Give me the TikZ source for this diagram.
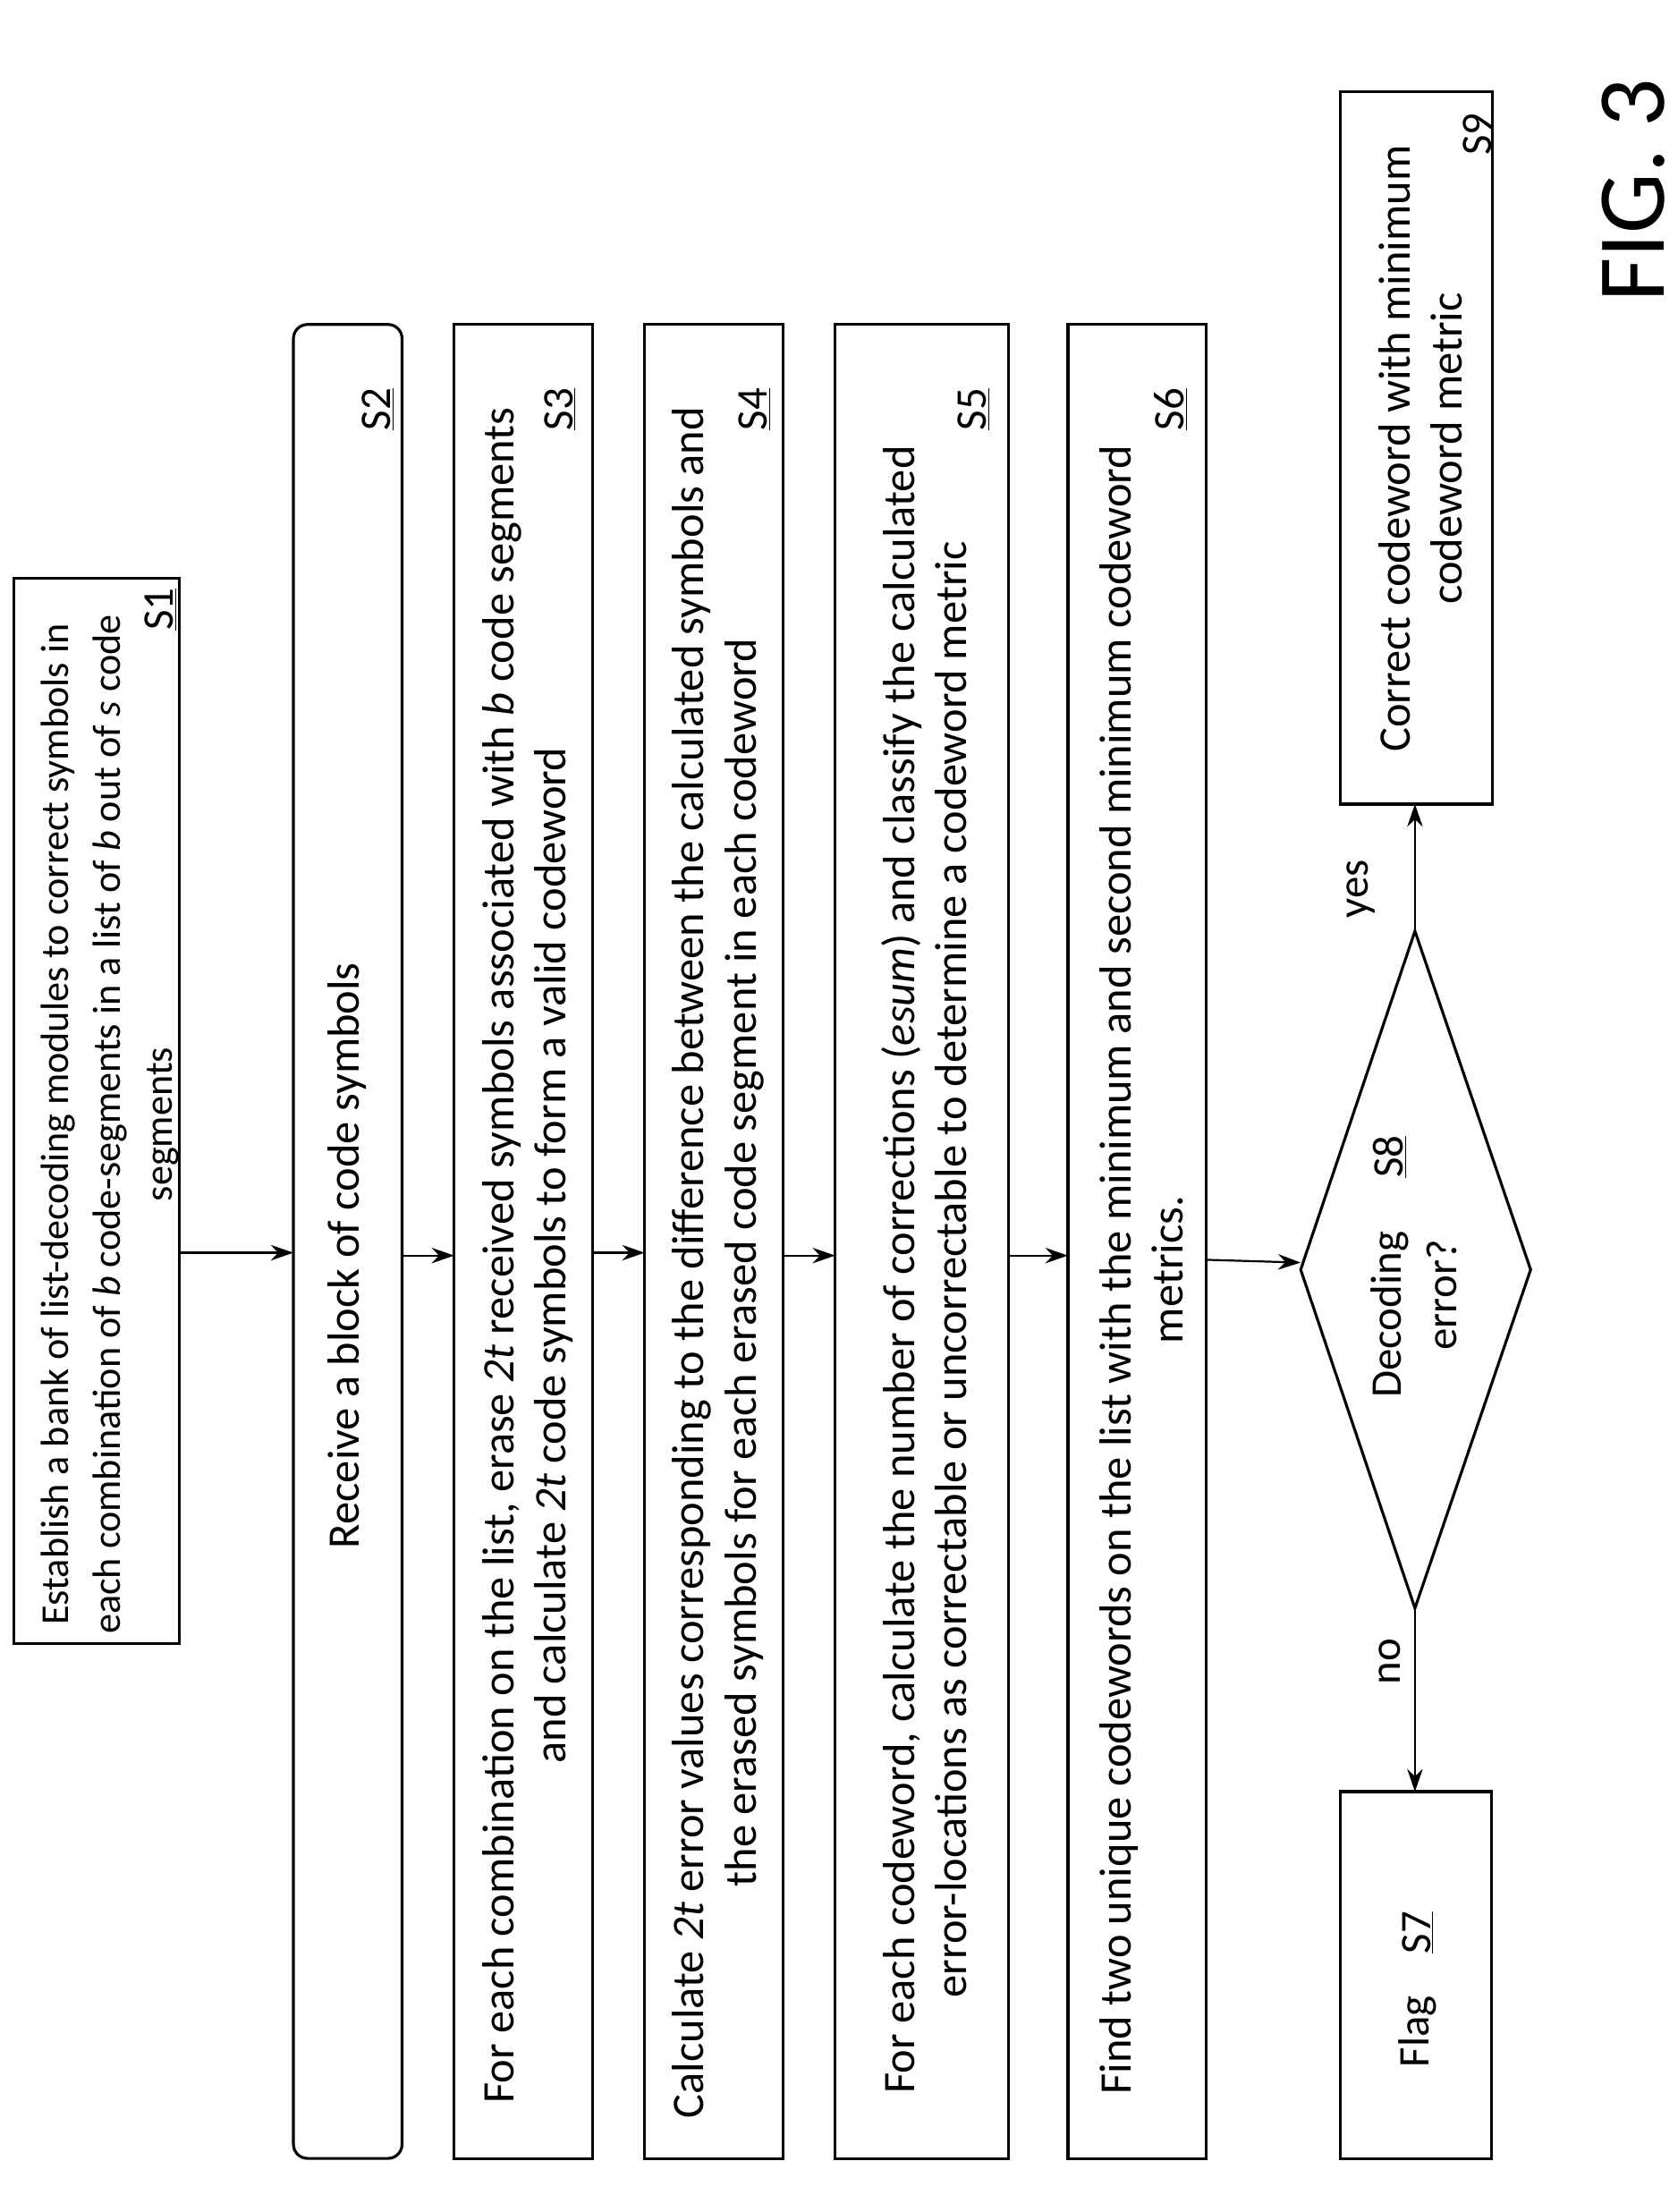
\documentclass[tikz,border=0pt]{standalone}
\usepackage{fontspec}
\setmainfont{Carlito}
\usetikzlibrary{arrows.meta}
\begin{document}
\begin{tikzpicture}[x=1pt,y=-1pt,
  box/.style={draw,line width=2pt},
  txt/.style={rotate=90,align=center,font=\fontsize{32}{37}\selectfont,inner sep=0pt},
  lab/.style={rotate=90,font=\fontsize{31}{37}\selectfont,inner sep=0pt},
  arr/.style={line width=1.4pt,-{Stealth[length=16pt,width=11pt]}}]
\useasboundingbox (0,0) rectangle (1189,1568);
% boxes
\draw[box] (10,410) rectangle (127,1165);
\draw[box,rounded corners=10pt] (208,230) rectangle (285,1530);
\draw[box] (322,230) rectangle (420,1530);
\draw[box] (457,230) rectangle (555,1530);
\draw[box] (592,230) rectangle (715,1530);
\draw[box] (757,230) rectangle (855,1530);
\draw[box] (950,1270) rectangle (1057,1530);
\draw[box] (950,65) rectangle (1058,570);
\draw[box] (1003,660) -- (1085,900) -- (1003,1140) -- (922,900) -- cycle;
% named anchors
\coordinate (s1) at (127,888); \coordinate (s2a) at (208,888);
\coordinate (s2b) at (285,890); \coordinate (s3a) at (322,890);
\coordinate (s3b) at (420,888); \coordinate (s4a) at (457,888);
\coordinate (s4b) at (555,890); \coordinate (s5a) at (592,890);
\coordinate (s5b) at (715,890); \coordinate (s6a) at (757,890);
\coordinate (s6b) at (855,893); \coordinate (dL) at (922,895);
\coordinate (dB) at (1003,1140); \coordinate (s7) at (1003,1270);
\coordinate (dT) at (1003,660); \coordinate (s9) at (1003,570);
\draw[arr] (s1) -- (s2a);
\draw[arr] (s2b) -- (s3a);
\draw[arr] (s3b) -- (s4a);
\draw[arr] (s4b) -- (s5a);
\draw[arr] (s5b) -- (s6a);
\draw[arr] (s6b) -- (dL);
\draw[arr] (dB) -- (s7);
\draw[arr] (dT) -- (s9);
% texts
\node[txt,font=\fontsize{28}{37}\selectfont] (t1) at (78,797) {Establish a bank of list-decoding modules to correct symbols in\\each combination of \textit{b} code-segments in a list of \textit{b} out of \textit{s} code\\segments};
\node[lab] (l1) at (114,432) {\underline{S1}};
\node[txt] (t2) at (246,890) {Receive a block of code symbols};
\node[lab] (l2) at (268,290) {\underline{S2}};
\node[txt] (t3) at (374,890) {For each combination on the list, erase \textit{2t} received symbols associated with \textit{b} code segments\\and calculate \textit{2t} code symbols to form a valid codeword};
\node[lab] (l3) at (397,290) {\underline{S3}};
\node[txt] (t4) at (509,895) {Calculate \textit{2t} error values corresponding to the difference between the calculated symbols and\\the erased symbols for each erased code segment in each codeword};
\node[lab] (l4) at (535,290) {\underline{S4}};
\node[txt] (t5) at (655,900) {For each codeword, calculate the number of corrections (\textit{esum}) and classify the calculated\\error-locations as correctable or uncorrectable to determine a codeword metric};
\node[lab] (l5) at (690,290) {\underline{S5}};
\node[txt] (t6) at (809,900) {Find two unique codewords on the list with the minimum and second minimum codeword\\metrics.};
\node[lab] (l6) at (830,290) {\underline{S6}};
\node[lab] (t8) at (985,932) {Decoding};
\node[lab] (l8) at (985,820) {\underline{S8}};
\node[lab] (t8b) at (1022,918) {error?};
\node[lab] (t7) at (1005,1440) {Flag};
\node[lab] (l7) at (1005,1370) {\underline{S7}};
\node[txt] (t9) at (1007,318) {Correct codeword with minimum\\codeword metric};
\node[lab] (l9) at (1048,95) {\underline{S9}};
\node[lab] (yes) at (965,630) {yes};
\node[lab] (no) at (985,1178) {no};
\node[rotate=90,inner sep=0pt,font=\fontsize{68}{70}\selectfont] (fig) at (1158,135) {FIG. 3};
\end{tikzpicture}
\end{document}
